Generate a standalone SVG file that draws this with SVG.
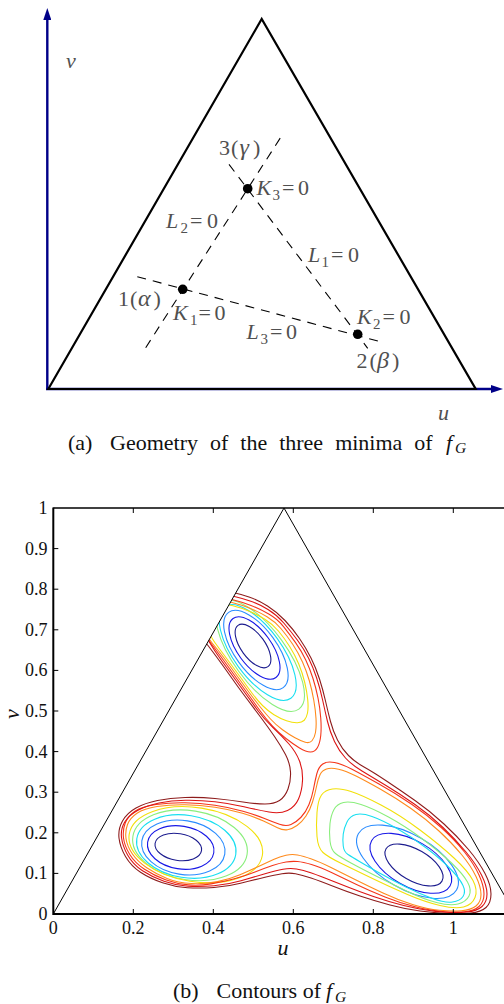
<svg xmlns="http://www.w3.org/2000/svg" width="504" height="1004" viewBox="0 0 504 1004">
<style>
.lbl{font-family:"Liberation Serif","Times New Roman",serif;font-size:22px;fill:#505050}
.it{font-style:italic}
.sub{font-size:15px}
.gr{font-size:24px;font-style:italic}
.cap{font-family:"Liberation Serif","Times New Roman",serif;font-size:22px;fill:#111}
.tk{font-family:"Liberation Serif","Times New Roman",serif;font-size:18px;fill:#111}
.dash{fill:none;stroke:#000;stroke-width:1.1;stroke-dasharray:9 7}
.axisA{stroke:#000088;stroke-width:2.4;fill:none}
.ct{fill:none;stroke-width:1.1}
.c1{stroke:#1c1c8e}.c2{stroke:#1818e6}.c3{stroke:#2a8cff}.c4{stroke:#19dff0}.c5{stroke:#8aee7c}
.c6{stroke:#f2e00a}.c7{stroke:#ff8a1c}.c8{stroke:#f5361a}.c9{stroke:#dc1414}.c10{stroke:#8e1c1c}
</style>
<defs>
<marker id="arr" viewBox="0 -4 12 8" markerWidth="12" markerHeight="8" refX="0" refY="0" orient="auto" markerUnits="userSpaceOnUse"><path d="M0,-4 L12,0 L0,4 z" fill="#000088"/></marker>
<clipPath id="tri"><polygon points="53.3,914 284,508 515,914"/></clipPath>
</defs>
<rect width="504" height="1004" fill="#fff"/>

<g id="panel-a">
 <g id="axes-a">
  <line class="axisA" x1="47.3" y1="390" x2="47.3" y2="20" marker-end="url(#arr)"/>
  <line class="axisA" x1="46" y1="389" x2="491" y2="389" marker-end="url(#arr)"/>
  <text class="lbl it" x="66" y="68">v</text>
  <text class="lbl it" x="438" y="420">u</text>
 </g>
 <polygon id="domain-a" points="48.3,389 261.7,19 475.7,389" fill="none" stroke="#000" stroke-width="2.2" stroke-linejoin="miter"/>
 <g id="connectors">
  <line id="L2" class="dash" x1="145.7" y1="347.7" x2="283.3" y2="133.3"/>
  <line id="L3" class="dash" x1="137.3" y1="276.7" x2="382.7" y2="342.3"/>
  <line id="L1" class="dash" x1="229" y1="164.3" x2="367.7" y2="348.3"/>
  <text class="lbl" x="166" y="228.3"><tspan class="it">L</tspan><tspan class="sub" x="180.5" dy="5">2</tspan><tspan x="190" dy="-5">=</tspan><tspan x="207">0</tspan></text>
  <text class="lbl" x="308" y="262"><tspan class="it">L</tspan><tspan class="sub" x="321.5" dy="5">1</tspan><tspan x="331" dy="-5">=</tspan><tspan x="348">0</tspan></text>
  <text class="lbl" x="246.5" y="339.3"><tspan class="it">L</tspan><tspan class="sub" x="260.5" dy="5">3</tspan><tspan x="270" dy="-5">=</tspan><tspan x="286">0</tspan></text>
 </g>
 <g id="node-gamma">
  <circle cx="247.7" cy="188.7" r="4.8" fill="#000"/>
  <text class="lbl" x="219" y="155">3<tspan x="231">(</tspan><tspan class="gr" x="239.5">γ</tspan><tspan x="253">)</tspan></text>
  <text class="lbl" x="256.5" y="195"><tspan class="it">K</tspan><tspan class="sub" x="272.5" dy="5">3</tspan><tspan x="282" dy="-5">=</tspan><tspan x="298">0</tspan></text>
 </g>
 <g id="node-alpha">
  <circle cx="182.7" cy="289.3" r="4.8" fill="#000"/>
  <text class="lbl" x="118" y="306">1<tspan x="130">(</tspan><tspan class="gr" x="138">α</tspan><tspan x="153.5">)</tspan></text>
  <text class="lbl" x="173" y="320"><tspan class="it">K</tspan><tspan class="sub" x="190" dy="5">1</tspan><tspan x="198.5" dy="-5">=</tspan><tspan x="214.5">0</tspan></text>
 </g>
 <g id="node-beta">
  <circle cx="357.7" cy="334.3" r="4.8" fill="#000"/>
  <text class="lbl" x="357" y="324"><tspan class="it">K</tspan><tspan class="sub" x="373" dy="5">2</tspan><tspan x="382.5" dy="-5">=</tspan><tspan x="399.5">0</tspan></text>
  <text class="lbl" x="356.5" y="368.3">2<tspan x="369.5">(</tspan><tspan class="gr" x="377">β</tspan><tspan x="392">)</tspan></text>
 </g>
 <text id="caption-a" class="cap" y="449.5"><tspan x="68">(a)</tspan><tspan x="110" word-spacing="6.5">Geometry of the three minima of</tspan><tspan class="it" x="446">f</tspan><tspan class="it" x="455" dy="3.5" font-size="15.5">G</tspan></text>
</g>

<g id="panel-b">
 <g id="contours" clip-path="url(#tri)">
  <g id="min-upper">
   <ellipse class="ct c1" cx="253" cy="646" rx="25.5" ry="12" transform="rotate(54 253 646)"/>
   <ellipse class="ct c2" cx="254.5" cy="648" rx="36.5" ry="17" transform="rotate(54 254.5 648)"/>
   <ellipse class="ct c3" cx="255.9" cy="650" rx="46.5" ry="21" transform="rotate(54 255.9 650)"/>
   <ellipse class="ct c4" cx="257.7" cy="652.5" rx="56.5" ry="24" transform="rotate(54 257.7 652.5)"/>
   <ellipse class="ct c5" cx="260.1" cy="655.7" rx="66" ry="26.5" transform="rotate(54 260.1 655.7)"/>
   <path class="ct c6" d="M213.5 609 Q222 603 232 605.5 Q242 608 250 611.5 Q258 615 265.25 619.5 Q272.5 624 278.4 631 Q284.3 638 289.65 646.5 Q295 655 298.75 664 Q302.5 673 304.75 682.5 Q307 692 307.75 700 Q308.5 708 307.5 713 Q306.5 718 304.25 720.25 Q302 722.5 297.5 722.75 Q293 723 286.5 720.75 Q280 718.5 274 714.75 Q268 711 262.5 705.5 Q257 700 251 691.75 Q245 683.5 239 675.25 Q233 667 227 659 Q221 651 215 642.75 Q209 634.5 207 624.75 Q205 615 213.5 609 Z"/>
   <path class="ct c7" d="M212 606 Q222 600 232 602.5 Q242 605 250.5 608.5 Q259 612 267 616.75 Q275 621.5 281.1 628.75 Q287.2 636 292.85 644.5 Q298.5 653 302.5 662 Q306.5 671 309.25 680.5 Q312 690 313.75 700 Q315.5 710 316 718.5 Q316.5 727 315.5 732.5 Q314.5 738 312 740.75 Q309.5 743.5 305.25 742.25 Q301 741 295 737.75 Q289 734.5 282.5 729.75 Q276 725 270.5 719 Q265 713 259.65 706.25 Q254.3 699.5 248.65 691.75 Q243 684 237 675.75 Q231 667.5 225 659.25 Q219 651 212.5 643.5 Q206 636 204 624 Q202 612 212 606 Z"/>
   <path class="ct c8" d="M211 604.5 Q222 597 232 599.5 Q242 602 251 605.5 Q260 609 268.75 614 Q277.5 619 283.55 626.6 Q289.6 634.2 295.55 642.6 Q301.5 651 305.75 660 Q310 669 313 678.5 Q316 688 318 698 Q320 708 320.75 718 Q321.5 728 320.75 735.5 Q320 743 317.5 747.5 Q315 752 310.5 752 Q306 752 299.5 748 Q293 744 286 738.5 Q279 733 272.5 726 Q266 719 259.85 710.5 Q253.7 702 247.75 693.75 Q241.8 685.5 235.65 677 Q229.5 668.5 223.5 660.25 Q217.5 652 210.75 643 Q204 634 202 623 Q200 612 211 604.5 Z"/>
  </g>
  <g id="min-lower-left">
   <ellipse class="ct c1" cx="178.3" cy="847" rx="23.5" ry="13.4" transform="rotate(9 178.3 847)"/>
   <ellipse class="ct c2" cx="180.7" cy="847.5" rx="33.5" ry="21.4" transform="rotate(9 180.7 847.5)"/>
   <ellipse class="ct c3" cx="183.3" cy="847.5" rx="42" ry="27" transform="rotate(9 183.3 847.5)"/>
   <ellipse class="ct c4" cx="186.3" cy="846.5" rx="50.1" ry="31.2" transform="rotate(9 186.3 846.5)"/>
   <ellipse class="ct c5" cx="190" cy="845.3" rx="57.8" ry="34.6" transform="rotate(9 190 845.3)"/>
   <ellipse class="ct c6" cx="195.8" cy="844.7" rx="67.4" ry="37" transform="rotate(9 195.8 844.7)"/>
  </g>
  <g id="min-lower-right">
   <ellipse class="ct c1" cx="414" cy="865" rx="32.3" ry="15.5" transform="rotate(30 414 865)"/>
   <ellipse class="ct c2" cx="410.8" cy="863.3" rx="45.3" ry="22.7" transform="rotate(30 410.8 863.3)"/>
   <ellipse class="ct c3" cx="407.5" cy="861.7" rx="56.6" ry="27" transform="rotate(30 407.5 861.7)"/>
   <path class="ct c4" d="M343.25 834 Q344 828 347 822 Q350 816 356 814.5 Q362 813 372 816.5 Q382 820 397 828.5 Q412 837 427 848.5 Q442 860 451 869.5 Q460 879 463 885.5 Q466 892 463 896.5 Q460 901 452.5 902 Q445 903 432.5 898.5 Q420 894 406 887 Q392 880 379.5 873 Q367 866 359.5 861.5 Q352 857 348 854.5 Q344 852 343.25 846 Q342.5 840 343.25 834 Z"/>
   <path class="ct c5" d="M330 823.5 Q331 815 334 809.5 Q337 804 343.5 802.5 Q350 801 361 804.5 Q372 808 388.5 817 Q405 826 422.5 839 Q440 852 451.5 863 Q463 874 467.5 882 Q472 890 469 896 Q466 902 458 904 Q450 906 436.5 902.5 Q423 899 407.5 891.5 Q392 884 377 876.5 Q362 869 351 863 Q340 857 335.5 853.5 Q331 850 330 841 Q329 832 330 823.5 Z"/>
   <path class="ct c6" d="M317 812.5 Q318 800 321.5 795 Q325 790 332.5 789 Q340 788 351 791.5 Q362 795 381 805 Q400 815 420 830 Q440 845 454 858 Q468 871 473 880.5 Q478 890 475 897.5 Q472 905 463.5 907 Q455 909 440 905.5 Q425 902 407.5 894.5 Q390 887 372.5 878.5 Q355 870 341.5 863.5 Q328 857 323 852.5 Q318 848 317 836.5 Q316 825 317 812.5 Z"/>
  </g>
  <g id="outer-levels">
   <path class="ct c7" d="M126 838.5 Q125 831 127.5 824.5 Q130 818 137 813.25 Q144 808.5 157 806.5 Q170 804.5 185 804.75 Q200 805 215 807.25 Q230 809.5 242.5 813.25 Q255 817 263.5 821 Q272 825 277.5 827.75 Q283 830.5 287.5 829.75 Q292 829 297 825.5 Q302 822 306 816 Q310 810 312.5 802 Q315 794 316.5 786.5 Q318 779 320 774.75 Q322 770.5 326.5 769 Q331 767.5 338.5 769.25 Q346 771 356 776 Q366 781 381 789.5 Q396 798 411 808.5 Q426 819 439 831 Q452 843 461.5 854.5 Q471 866 476 876.5 Q481 887 481 894.5 Q481 902 476 906 Q471 910 461.5 910.75 Q452 911.5 439.5 910.25 Q427 909 412.5 904.5 Q398 900 383 893 Q368 886 355 879.5 Q342 873 331 867.5 Q320 862 311.5 859 Q303 856 297.5 855 Q292 854 286 855.25 Q280 856.5 273.5 859.5 Q267 862.5 258.5 866.5 Q250 870.5 240 874.75 Q230 879 217.5 881.65 Q205 884.3 191.5 883.55 Q178 882.8 167 878.4 Q156 874 146.75 867.75 Q137.5 861.5 132.25 853.75 Q127 846 126 838.5 Z"/>
   <path class="ct c8" d="M123.5 838 Q122.5 830 125.25 823 Q128 816 135 811.25 Q142 806.5 156 804.5 Q170 802.5 185 802.75 Q200 803 215 805.25 Q230 807.5 243 811.25 Q256 815 264.5 818.5 Q273 822 279.5 824.25 Q286 826.5 291 824.5 Q296 822.5 301 817.25 Q306 812 309 804.5 Q312 797 313.5 789 Q315 781 316.75 774 Q318.5 767 322.75 764 Q327 761 334.5 762.5 Q342 764 352 769.25 Q362 774.5 379 784 Q396 793.5 412 804.5 Q428 815.5 441.5 827.75 Q455 840 464.5 852 Q474 864 479 875 Q484 886 484 894 Q484 902 479 906.5 Q474 911 464.5 911.75 Q455 912.5 442.5 911.5 Q430 910.5 415 906.75 Q400 903 385 897 Q370 891 356.5 884.5 Q343 878 331.5 872.5 Q320 867 311.5 864.5 Q303 862 297.5 861.5 Q292 861 286 862 Q280 863 272.5 865.5 Q265 868 255 872 Q245 876 233.5 879 Q222 882 211 883.9 Q200 885.8 188.5 884.9 Q177 884 165.5 879.75 Q154 875.5 144.5 869.25 Q135 863 129.75 854.5 Q124.5 846 123.5 838 Z"/>
   <path class="ct c9" d="M214.5 598.5 Q224 594 232.5 596 Q241 598 250 601 Q259 604 268 609.5 Q277 615 284 623.25 Q291 631.5 297.5 640.25 Q304 649 308.5 658 Q313 667 316.5 677.5 Q320 688 322.5 699.5 Q325 711 327.5 721.5 Q330 732 334.5 741.5 Q339 751 345.5 758 Q352 765 362 771 Q372 777 386 785.5 Q400 794 415 804.5 Q430 815 443 827.5 Q456 840 466 852 Q476 864 481.5 875 Q487 886 487 894 Q487 902 482 906.5 Q477 911 467 912 Q457 913 445 912.25 Q433 911.5 418.5 908.75 Q404 906 389 901.5 Q374 897 359.5 891.5 Q345 886 332.5 881 Q320 876 311.5 873 Q303 870 296.5 869 Q290 868 283 869.25 Q276 870.5 265 873.75 Q254 877 241 880.75 Q228 884.5 214 885.75 Q200 887 188 886.25 Q176 885.5 164 881.25 Q152 877 142.5 870.75 Q133 864.5 127.75 855.25 Q122.5 846 121.5 837.5 Q120.5 829 124.75 822 Q129 815 138 810.25 Q147 805.5 159 803 Q171 800.5 185.5 800.25 Q200 800 215 801.75 Q230 803.5 244 806.75 Q258 810 269 812 Q280 814 287.5 810.5 Q295 807 298.5 799 Q302 791 302.5 780.5 Q303 770 299.5 761 Q296 752 289 744 Q282 736 273 727.5 Q264 719 258.2 711 Q252.4 703 246.55 695 Q240.7 687 234.2 678 Q227.7 669 221.15 660 Q214.6 651 209.3 642 Q204 633 204.5 618 Q205 603 214.5 598.5 Z"/>
   <path class="ct c10" d="M211 597.5 Q222 590 231 592 Q240 594 249 597 Q258 600 267.5 606 Q277 612 285 620.5 Q293 629 299.5 638.5 Q306 648 311 658 Q316 668 319.5 679 Q323 690 325.5 701 Q328 712 330.5 721.5 Q333 731 337.5 740 Q342 749 348.5 755.5 Q355 762 364 767 Q373 772 386.5 781 Q400 790 415 800.5 Q430 811 444 824 Q458 837 468.5 849.5 Q479 862 485 873.5 Q491 885 491 894 Q491 903 486 907.5 Q481 912 470.5 913 Q460 914 447.5 913.5 Q435 913 420 911 Q405 909 390 905 Q375 901 360 896 Q345 891 332.5 886 Q320 881 311 878 Q302 875 295.5 873.75 Q289 872.5 282 873.75 Q275 875 264 877.5 Q253 880 240.5 883.25 Q228 886.5 214 887.5 Q200 888.5 187.5 887.75 Q175 887 162.5 882.75 Q150 878.5 140.5 872.25 Q131 866 125.5 856.5 Q120 847 119 838 Q118 829 122.5 821 Q127 813 136 808 Q145 803 157.5 800.5 Q170 798 185 797.5 Q200 797 215 798.5 Q230 800 243 802 Q256 804 265 804 Q274 804 279.5 800.5 Q285 797 288 789 Q291 781 290.5 772 Q290 763 285.5 754.5 Q281 746 274.5 736.5 Q268 727 260.5 717 Q253 707 245.5 697 Q238 687 231 677 Q224 667 217 657.5 Q210 648 203 639 Q196 630 198 617.5 Q200 605 211 597.5 Z"/>
  </g>
 </g>
 <polyline id="domain-b" points="53.3,914 284,508 515,914" fill="none" stroke="#000" stroke-width="1"/>
 <g id="axes-b" stroke="#000" fill="none">
  <line x1="53.3" y1="508" x2="504" y2="508" stroke-width="1.4"/>
  <line x1="53.3" y1="914" x2="504" y2="914" stroke-width="2"/>
  <line x1="53.3" y1="507.5" x2="53.3" y2="915" stroke-width="2"/>
  <path stroke-width="1" d="M53.3 873.4h5M53.3 832.8h5M53.3 792.2h5M53.3 751.6h5M53.3 711h5M53.3 670.4h5M53.3 629.8h5M53.3 589.2h5M53.3 548.6h5M133.3 508v5M213.3 508v5M293.3 508v5M373.3 508v5M453.3 508v5M133.3 914v-5M213.3 914v-5M293.3 914v-5M373.3 914v-5M453.3 914v-5"/>
 </g>
 <g id="ticklabels-b" class="tk">
  <g text-anchor="end">
   <text x="47.5" y="514">1</text>
   <text x="47.5" y="554.6">0.9</text>
   <text x="47.5" y="595.2">0.8</text>
   <text x="47.5" y="635.8">0.7</text>
   <text x="47.5" y="676.4">0.6</text>
   <text x="47.5" y="717">0.5</text>
   <text x="47.5" y="757.6">0.4</text>
   <text x="47.5" y="798.2">0.3</text>
   <text x="47.5" y="838.8">0.2</text>
   <text x="47.5" y="879.4">0.1</text>
   <text x="47.5" y="920">0</text>
  </g>
  <g text-anchor="middle">
   <text x="53.3" y="934">0</text>
   <text x="133.3" y="934">0.2</text>
   <text x="213.3" y="934">0.4</text>
   <text x="293.3" y="934">0.6</text>
   <text x="373.3" y="934">0.8</text>
   <text x="453.3" y="934">1</text>
  </g>
 </g>
 <text class="cap it" x="283" y="955" text-anchor="middle" font-size="19">u</text>
 <text class="cap it" transform="translate(19 714) rotate(-90)" text-anchor="middle">v</text>
 <text id="caption-b" class="cap" y="998"><tspan x="173">(b)</tspan><tspan x="216.5">Contours of</tspan><tspan class="it" x="326">f</tspan><tspan class="it" x="335" dy="3.5" font-size="15.5">G</tspan></text>
</g>
</svg>
